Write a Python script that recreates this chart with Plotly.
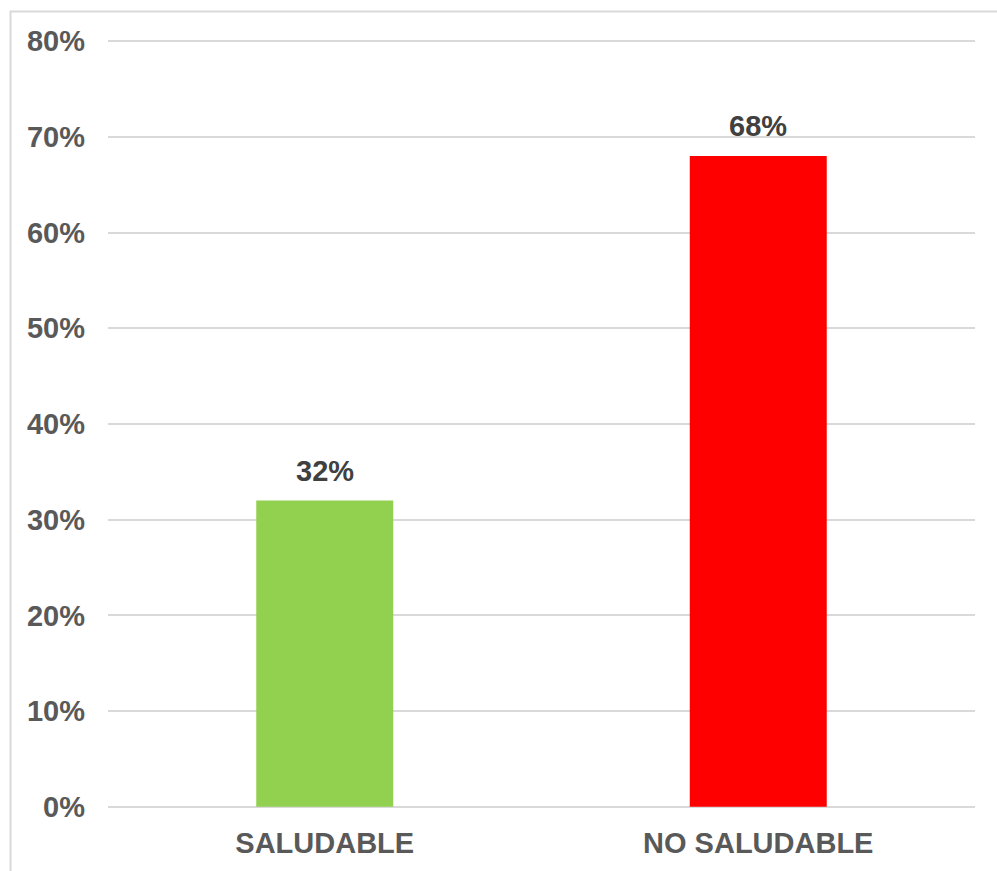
import plotly.graph_objects as go

categories = ["SALUDABLE", "NO SALUDABLE"]
values = [0.32, 0.68]
bar_colors = ["#92D050", "#FF0000"]
label_texts = ["32%", "68%"]
tick_vals = [0, 0.1, 0.2, 0.3, 0.4, 0.5, 0.6, 0.7, 0.8]
tick_texts = ["0%", "10%", "20%", "30%", "40%", "50%", "60%", "70%", "80%"]

W, H = 997, 871
L, R, T, B = 108, 22, 40, 63
pw, ph = W - L - R, H - T - B

font_family = "Liberation Sans, Arial, sans-serif"
FS = 29

fig = go.Figure()
fig.add_trace(go.Bar(
    x=categories, y=values, marker=dict(color=bar_colors, line=dict(width=0)),
    width=0.316, hoverinfo="skip",
))

for c, v, t in zip(categories, values, label_texts):
    fig.add_annotation(x=c, y=v, text=f"<b>{t}</b>", showarrow=False,
                       yanchor="bottom", yshift=12,
                       font=dict(family=font_family, size=FS, color="#404040"))

def px_x(p):
    return (p - L) / pw

def px_y(p):
    return (H - B - p) / ph

fig.add_shape(type="rect", xref="paper", yref="paper",
              x0=px_x(10.5), x1=px_x(1010), y0=px_y(880), y1=px_y(11.5),
              line=dict(color="#D9D9D9", width=2), fillcolor="rgba(0,0,0,0)", layer="below")

fig.update_layout(
    width=W, height=H,
    margin=dict(l=L, r=R, t=T, b=B, pad=0),
    paper_bgcolor="white", plot_bgcolor="white",
    showlegend=False,
    font=dict(family=font_family, size=FS, color="#595959"),
    xaxis=dict(showgrid=False, showline=False, ticks="", zeroline=False,
               tickfont=dict(family=font_family, size=FS, color="#595959", weight="bold"),
               ticklabelstandoff=15),
    yaxis=dict(range=[-0.0013, 0.8013], tickvals=tick_vals, ticktext=tick_texts,
               showgrid=True, gridcolor="#D9D9D9", gridwidth=2,
               zeroline=False, showline=False, ticks="",
               tickfont=dict(family=font_family, size=FS, color="#595959", weight="bold"),
               ticklabelstandoff=22),
)

fig.write_html("out.html")
